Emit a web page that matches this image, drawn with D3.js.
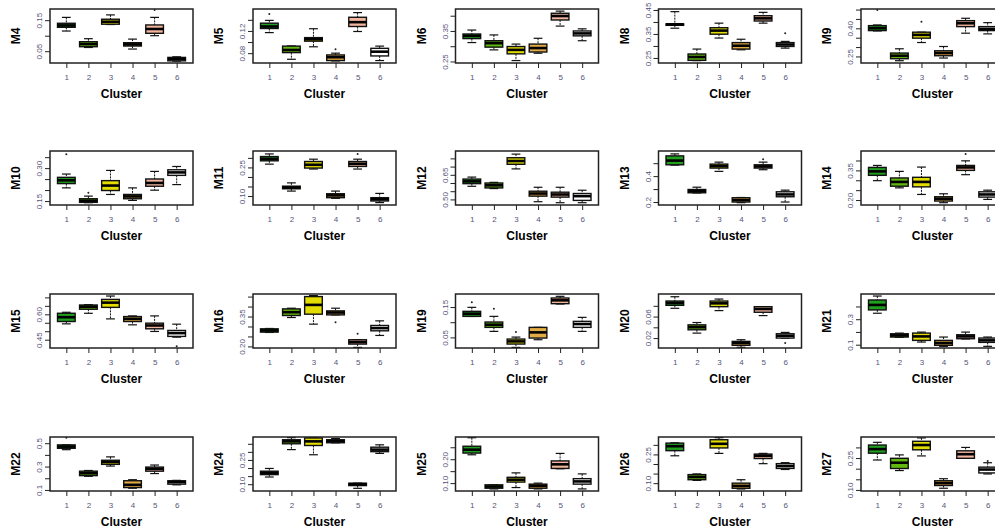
<!DOCTYPE html>
<html>
<head>
<meta charset="utf-8">
<script src="https://cdn.jsdelivr.net/npm/d3@7"></script>
<style>
  body { margin: 0; background: #fff; }
  svg { display: block; font-family: "Liberation Sans", Arial, sans-serif; }
</style>
</head>
<body>
<svg id="chart"></svg>
<script>
// boxplots of each measure by cluster (R style, 4 x 5 grid)

const panels = ['M4', 'M5', 'M6', 'M8', 'M9', 'M10', 'M11', 'M12', 'M13', 'M14',
  'M15', 'M16', 'M19', 'M20', 'M21', 'M22', 'M24', 'M25', 'M26', 'M27'];

const clusters = [1, 2, 3, 4, 5, 6];
const clusterColors = ['#1f9e1f', '#62b80e', '#e3dc00', '#e2ab45', '#f2b69e', '#ffffff'];

const yDomains = [
  [0.012, 0.186], [0.0623, 0.1595], [0.245, 0.422], [0.229, 0.454], [0.215, 0.503],
  [0.132, 0.378], [0.053, 0.336], [0.466, 0.795], [0.177, 0.594], [0.175, 0.448],
  [0.401, 0.720], [0.192, 0.463], [0.015, 0.193], [0.0015, 0.102], [0.074, 0.498],
  [0.091, 0.553], [0.058, 0.392], [0.067, 0.293], [0.059, 0.341], [0.095, 0.349]
];

const yTicks = [
  [0.05, 0.10, 0.15], [0.08, 0.10, 0.12, 0.14], [0.25, 0.30, 0.35, 0.40],
  [0.25, 0.30, 0.35, 0.40, 0.45], [0.25, 0.30, 0.35, 0.40, 0.45, 0.50],
  [0.15, 0.20, 0.25, 0.30, 0.35], [0.10, 0.15, 0.20, 0.25, 0.30],
  [0.50, 0.55, 0.60, 0.65, 0.70, 0.75], [0.2, 0.3, 0.4, 0.5],
  [0.20, 0.25, 0.30, 0.35, 0.40], [0.45, 0.50, 0.55, 0.60, 0.65, 0.70],
  [0.20, 0.25, 0.30, 0.35, 0.40, 0.45], [0.05, 0.10, 0.15], [0.02, 0.04, 0.06, 0.08],
  [0.1, 0.2, 0.3, 0.4], [0.1, 0.2, 0.3, 0.4, 0.5], [0.10, 0.15, 0.20, 0.25, 0.30, 0.35],
  [0.10, 0.15, 0.20, 0.25], [0.10, 0.15, 0.20, 0.25, 0.30], [0.10, 0.15, 0.20, 0.25, 0.30]
];

// '' = tick without a label (R drops overlapping labels)
const yTickLabels = [
  ['0.05', '', '0.15'], ['0.08', '', '0.12', ''], ['0.25', '', '0.35', ''],
  ['0.25', '', '0.35', '', '0.45'], ['0.25', '', '', '0.40', '', ''],
  ['0.15', '', '', '0.30', ''], ['0.10', '', '', '0.25', ''],
  ['0.50', '', '', '0.65', '', ''], ['0.2', '', '0.4', ''],
  ['0.20', '', '', '0.35', ''], ['0.45', '', '', '0.60', '', ''],
  ['0.20', '', '', '0.35', '', ''], ['0.05', '', '0.15'], ['0.02', '', '0.06', ''],
  ['0.1', '', '0.3', ''], ['0.1', '', '0.3', '', '0.5'], ['0.10', '', '', '0.25', '', ''],
  ['0.10', '', '0.20', ''], ['0.10', '', '', '0.25', ''], ['0.10', '', '', '0.25', '']
];

// per panel, per cluster: [lower whisker, Q1, median, Q3, upper whisker]
const boxStats = [
  [[0.115, 0.127, 0.133, 0.140, 0.159], [0.062, 0.0645, 0.073, 0.0806, 0.0903], [0.136, 0.137, 0.145, 0.153, 0.167],
   [0.057, 0.0667, 0.072, 0.0774, 0.089], [0.100, 0.1077, 0.1216, 0.1346, 0.159], [0.018, 0.019, 0.025, 0.030, 0.032]],
  [[0.117, 0.1244, 0.128, 0.134, 0.139], [0.069, 0.081, 0.0857, 0.0927, 0.093], [0.0915, 0.1016, 0.105, 0.108, 0.124],
   [0.066, 0.0667, 0.0727, 0.0768, 0.080], [0.119, 0.128, 0.1358, 0.1446, 0.153], [0.0667, 0.075, 0.0827, 0.0887, 0.0927]],
  [[0.312, 0.325, 0.334, 0.340, 0.353], [0.288, 0.297, 0.310, 0.318, 0.337], [0.253, 0.275, 0.288, 0.299, 0.307],
   [0.277, 0.281, 0.294, 0.307, 0.326], [0.366, 0.386, 0.399, 0.408, 0.415], [0.318, 0.334, 0.342, 0.350, 0.357]],
  [[0.374, 0.386, 0.390, 0.392, 0.443], [0.239, 0.240, 0.254, 0.2665, 0.287], [0.333, 0.349, 0.364, 0.376, 0.395],
   [0.284, 0.287, 0.301, 0.314, 0.328], [0.395, 0.404, 0.415, 0.426, 0.440], [0.291, 0.298, 0.306, 0.314, 0.319]],
  [[0.386, 0.3878, 0.4005, 0.4143, 0.418], [0.2272, 0.2378, 0.2537, 0.268, 0.2908], [0.3242, 0.3475, 0.365, 0.3793, 0.3793],
   [0.2415, 0.2537, 0.268, 0.2802, 0.303], [0.374, 0.409, 0.427, 0.4408, 0.4535], [0.3703, 0.3878, 0.3968, 0.409, 0.4302]],
  [[0.21, 0.2295, 0.2445, 0.258, 0.273], [0.1425, 0.144, 0.1515, 0.1605, 0.1725], [0.18, 0.198, 0.2205, 0.243, 0.2895],
   [0.153, 0.1605, 0.171, 0.18, 0.21], [0.1995, 0.2175, 0.2325, 0.2505, 0.285], [0.225, 0.267, 0.2805, 0.2925, 0.3075]],
  [[0.2672, 0.2845, 0.2948, 0.3069, 0.3207], [0.1259, 0.1379, 0.1448, 0.1517, 0.169], [0.2414, 0.2466, 0.2638, 0.281, 0.2931],
   [0.088, 0.0914, 0.1034, 0.112, 0.1259], [0.2414, 0.2552, 0.269, 0.281, 0.2931], [0.0655, 0.0741, 0.0828, 0.0914, 0.1138]],
  [[0.58, 0.596, 0.61, 0.624, 0.636], [0.566, 0.57, 0.586, 0.60, 0.604], [0.686, 0.714, 0.734, 0.754, 0.776],
   [0.486, 0.52, 0.536, 0.55, 0.574], [0.48, 0.514, 0.53, 0.544, 0.574], [0.48, 0.494, 0.52, 0.536, 0.556]],
  [[0.485, 0.4876, 0.52, 0.5563, 0.5716], [0.27, 0.2713, 0.284, 0.2967, 0.3145], [0.4367, 0.4621, 0.4774, 0.4927, 0.508],
   [0.195, 0.20, 0.215, 0.233, 0.235], [0.4494, 0.4621, 0.4749, 0.4876, 0.508], [0.20, 0.2407, 0.2585, 0.279, 0.2916]],
  [[0.298, 0.325, 0.345, 0.365, 0.375], [0.2617, 0.27, 0.2917, 0.3117, 0.345], [0.2283, 0.2667, 0.2917, 0.315, 0.3667],
   [0.1867, 0.195, 0.2067, 0.2167, 0.2317], [0.3283, 0.35, 0.365, 0.375, 0.3983], [0.2033, 0.215, 0.2283, 0.2417, 0.25]],
  [[0.5437, 0.5574, 0.5828, 0.6062, 0.612], [0.606, 0.63, 0.645, 0.655, 0.657], [0.573, 0.641, 0.669, 0.688, 0.708],
   [0.5379, 0.5574, 0.573, 0.5867, 0.5906], [0.4988, 0.5144, 0.534, 0.5477, 0.5906], [0.465, 0.4695, 0.489, 0.5047, 0.5418]],
  [[0.27, 0.2717, 0.28, 0.2883, 0.29], [0.345, 0.355, 0.3717, 0.3883, 0.3917], [0.3117, 0.3617, 0.4083, 0.45, 0.455],
   [0.3583, 0.3583, 0.37, 0.3783, 0.3917], [0.195, 0.2117, 0.2217, 0.2333, 0.2333], [0.255, 0.2783, 0.2917, 0.305, 0.3283]],
  [[0.119, 0.1193, 0.128, 0.1358, 0.149], [0.0698, 0.083, 0.0918, 0.1006, 0.1193], [0.017, 0.028, 0.0368, 0.0445, 0.051],
   [0.0423, 0.0478, 0.0665, 0.083, 0.083], [0.16, 0.1611, 0.1721, 0.1798, 0.1853], [0.0698, 0.083, 0.094, 0.1028, 0.116]],
  [[0.0754, 0.0809, 0.0852, 0.0889, 0.0969], [0.0292, 0.0354, 0.0403, 0.0446, 0.0489], [0.0711, 0.0784, 0.0846, 0.0889, 0.0926],
   [0.0028, 0.0065, 0.0108, 0.0138, 0.0169], [0.0618, 0.068, 0.0741, 0.0784, 0.0784], [0.02, 0.02, 0.0243, 0.028, 0.0305]],
  [[0.347, 0.373, 0.412, 0.451, 0.482], [0.158, 0.16, 0.173, 0.1858, 0.191], [0.1208, 0.1338, 0.165, 0.191, 0.1988],
   [0.087, 0.0948, 0.113, 0.1338, 0.16], [0.145, 0.1468, 0.165, 0.178, 0.1988], [0.087, 0.1182, 0.1338, 0.152, 0.16]],
  [[0.4445, 0.4562, 0.471, 0.4854, 0.4854], [0.2168, 0.2226, 0.243, 0.2606, 0.2664], [0.3044, 0.319, 0.339, 0.354, 0.383],
   [0.1146, 0.1204, 0.1438, 0.1788, 0.1876], [0.2402, 0.2606, 0.281, 0.2956, 0.3132], [0.1438, 0.1496, 0.1672, 0.1788, 0.182]],
  [[0.1445, 0.1593, 0.17, 0.1805, 0.1975], [0.314, 0.35, 0.365, 0.375, 0.388], [0.2822, 0.3395, 0.365, 0.386, 0.388],
   [0.356, 0.3564, 0.367, 0.375, 0.382], [0.0746, 0.0915, 0.10, 0.1064, 0.1064], [0.2907, 0.3013, 0.314, 0.3289, 0.3437]],
  [[0.2186, 0.2257, 0.24, 0.2543, 0.29], [0.0757, 0.0786, 0.0857, 0.0929, 0.0929], [0.0814, 0.1043, 0.1143, 0.1243, 0.1429],
   [0.0757, 0.0786, 0.0886, 0.0957, 0.10], [0.16, 0.1614, 0.1786, 0.1929, 0.2243], [0.0757, 0.0957, 0.1071, 0.1186, 0.1386]],
  [[0.2429, 0.2696, 0.2929, 0.309, 0.3107], [0.1143, 0.1179, 0.1321, 0.1446, 0.1482], [0.2554, 0.2839, 0.3054, 0.3268, 0.3375],
   [0.0696, 0.0732, 0.0857, 0.10, 0.1179], [0.2018, 0.2286, 0.2429, 0.2518, 0.2554], [0.1714, 0.1768, 0.1893, 0.2018, 0.2071]],
  [[0.2408, 0.2728, 0.292, 0.3112, 0.324], [0.1912, 0.2008, 0.228, 0.2488, 0.2648], [0.26, 0.2888, 0.3112, 0.3288, 0.3448],
   [0.108, 0.1208, 0.132, 0.1432, 0.1528], [0.2488, 0.2488, 0.268, 0.284, 0.30], [0.1752, 0.18, 0.196, 0.2072, 0.228]]
];

// per panel: [cluster, value] points beyond the whiskers
const outliers = [
  [[5, 0.183]], [[1, 0.1506], [4, 0.087]], [], [[6, 0.353]], [[1, 0.4975], [3, 0.4355]],
  [[1, 0.363], [2, 0.1875]], [[5, 0.3207]], [], [[5, 0.531]], [[5, 0.433]],
  [[6, 0.411]], [[4, 0.3217], [5, 0.2633]], [[1, 0.1655], [2, 0.1446], [3, 0.0676]], [[6, 0.0108]], [],
  [[1, 0.5467]], [], [], [], [[6, 0.236]]
];

const W = 995, H = 531;
const colLeft = [50, 253, 455.5, 658.5, 861];
const rowTop = [9, 151, 294, 437];
const pw = 143, ph = 54;
const tickColor = '#55557a';

const svg = d3.select('#chart')
  .attr('width', W)
  .attr('height', H);

panels.forEach((name, i) => {
  const col = i % 5, row = Math.floor(i / 5);
  const g = svg.append('g')
    .attr('transform', `translate(${colLeft[col]},${rowTop[row]})`);

  // R pads the x range by 4% around 0.5..6.5
  const x = d3.scaleLinear().domain([0.26, 6.74]).range([0, pw]);
  const y = d3.scaleLinear().domain(yDomains[i]).range([ph, 0]);
  const bw = x(1.4) - x(1);    // box half width (boxwex 0.8)
  const sw = bw / 2;           // staple half width

  // axes
  const xAxis = d3.axisBottom(x).tickValues(clusters).tickSize(5)
    .tickSizeOuter(0).tickFormat(d3.format('d'));
  const xg = g.append('g')
    .attr('transform', `translate(0,${ph})`)
    .call(xAxis);
  xg.select('.domain').remove();
  xg.selectAll('text')
    .attr('y', 11)
    .attr('fill', tickColor)
    .style('font-size', '8px');

  const labels = yTickLabels[i];
  const yAxis = d3.axisLeft(y).tickValues(yTicks[i]).tickSize(5)
    .tickFormat((d, k) => labels[k]);
  const yg = g.append('g').call(yAxis);
  yg.select('.domain').remove();
  yg.selectAll('text')
    .attr('transform', 'rotate(-90)')
    .attr('x', 0)
    .attr('y', -8)
    .attr('dy', 0)
    .attr('text-anchor', 'middle')
    .attr('fill', tickColor)
    .style('font-size', '8px');
  g.selectAll('.tick line').attr('stroke', '#222');

  // boxes
  const stats = boxStats[i];
  const bx = g.selectAll('g.box')
    .data(clusters)
    .enter()
    .append('g')
    .attr('class', 'box');

  bx.append('line')
    .attr('x1', (c) => x(c)).attr('x2', (c) => x(c))
    .attr('y1', (c, k) => y(stats[k][4])).attr('y2', (c, k) => y(stats[k][3]))
    .attr('stroke', '#111').attr('stroke-dasharray', '2,1');
  bx.append('line')
    .attr('x1', (c) => x(c)).attr('x2', (c) => x(c))
    .attr('y1', (c, k) => y(stats[k][1])).attr('y2', (c, k) => y(stats[k][0]))
    .attr('stroke', '#111').attr('stroke-dasharray', '2,1');
  [0, 4].forEach((s) => {
    bx.append('line')
      .attr('x1', (c) => x(c) - sw).attr('x2', (c) => x(c) + sw)
      .attr('y1', (c, k) => y(stats[k][s])).attr('y2', (c, k) => y(stats[k][s]))
      .attr('stroke', '#111').attr('stroke-width', 1.2);
  });
  bx.append('rect')
    .attr('x', (c) => x(c) - bw)
    .attr('width', 2 * bw)
    .attr('y', (c, k) => y(stats[k][3]))
    .attr('height', (c, k) => Math.max(1, y(stats[k][1]) - y(stats[k][3])))
    .attr('fill', (c, k) => clusterColors[k])
    .attr('stroke', '#111')
    .attr('stroke-width', 1.4);
  bx.append('line')
    .attr('x1', (c) => x(c) - bw).attr('x2', (c) => x(c) + bw)
    .attr('y1', (c, k) => y(stats[k][2])).attr('y2', (c, k) => y(stats[k][2]))
    .attr('stroke', '#000').attr('stroke-width', 2.6);

  g.selectAll('circle.out')
    .data(outliers[i])
    .enter()
    .append('circle')
    .attr('class', 'out')
    .attr('cx', (d) => x(d[0]))
    .attr('cy', (d) => y(d[1]))
    .attr('r', 1)
    .attr('fill', '#222');

  // frame
  g.append('rect')
    .attr('width', pw).attr('height', ph)
    .attr('fill', 'none')
    .attr('stroke', '#222')
    .attr('stroke-width', 1.5);

  // titles
  g.append('text')
    .attr('transform', `translate(-30,${ph / 2}) rotate(-90)`)
    .attr('text-anchor', 'middle')
    .style('font-size', '12px')
    .style('font-weight', 'bold')
    .text(name);
  g.append('text')
    .attr('x', pw / 2)
    .attr('y', ph + 35)
    .attr('text-anchor', 'middle')
    .style('font-size', '12px')
    .style('font-weight', 'bold')
    .text('Cluster');
});
</script>
</body>
</html>
